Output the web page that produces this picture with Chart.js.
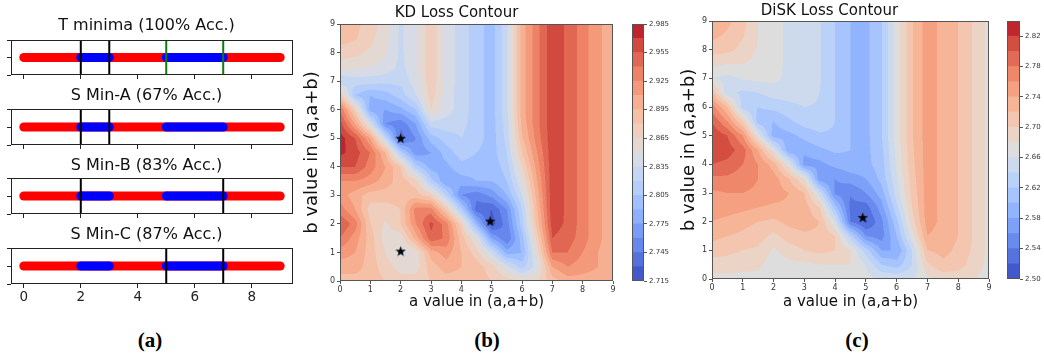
<!DOCTYPE html>
<html>
<head>
<meta charset="utf-8">
<title>Minima and loss contours</title>
<script src="https://cdn.jsdelivr.net/npm/chart.js@4.4.0/dist/chart.umd.min.js"></script>
<style>
  html, body { margin: 0; padding: 0; background: #fff; }
  #fig { position: relative; width: 1044px; height: 354px; overflow: hidden; }
  #fig canvas { position: absolute; }
  .tag { position: absolute; width: 60px; text-align: center; font: bold 21px "Liberation Serif", serif; line-height: 24px; color: #000; }
</style>
</head>
<body>
<div id="fig">
  <canvas id="strip0" width="300" height="64" style="left:0;top:16px"></canvas>
  <canvas id="strip1" width="300" height="64" style="left:0;top:86px"></canvas>
  <canvas id="strip2" width="300" height="63" style="left:0;top:156px"></canvas>
  <canvas id="strip3" width="300" height="79" style="left:0;top:225px"></canvas>
  <canvas id="kd" width="320" height="320" style="left:300px;top:0"></canvas>
  <canvas id="kdBar" width="60" height="320" style="left:620px;top:0"></canvas>
  <canvas id="disk" width="330" height="320" style="left:670px;top:0"></canvas>
  <canvas id="diskBar" width="49" height="320" style="left:995px;top:0"></canvas>
  <div class="tag" style="left:120px;top:328px">(a)</div>
  <div class="tag" style="left:457px;top:328px">(b)</div>
  <div class="tag" style="left:827px;top:328px">(c)</div>
</div>
<script>
// ---- panel (a): minima strips ----
const stripTitles = ["T minima (100% Acc.)", "S Min-A (67% Acc.)", "S Min-B (83% Acc.)", "S Min-C (87% Acc.)"];
const stripRange = [0, 9];
const blueRanges = [[2, 3], [5, 7]];
const blackLines = [[2, 3], [2, 3], [2, 7], [5, 7]];
const greenLines = [[5, 7], [], [], []];
const stripTicks = [0, 2, 4, 6, 8];
const stripYTicks = [-0.05, 0, 0.05];

// ---- panels (b), (c): loss surfaces sampled on a 0.5 grid ----
const gridA = [0, 0.5, 1, 1.5, 2, 2.5, 3, 3.5, 4, 4.5, 5, 5.5, 6, 6.5, 7, 7.5, 8, 8.5, 9];
const gridB = [9, 8.5, 8, 7.5, 7, 6.5, 6, 5.5, 5, 4.5, 4, 3.5, 3, 2.5, 2, 1.5, 1, 0.5, 0];
const axisTicks = [0, 1, 2, 3, 4, 5, 6, 7, 8, 9];

const kdLoss = [
  [2.8875, 2.8845, 2.8725, 2.8575, 2.8320, 2.8470, 2.8755, 2.8455, 2.8275, 2.8125, 2.7975, 2.8320, 2.9025, 2.9355, 2.9655, 2.9520, 2.9325, 2.9130, 2.9025],
  [2.8875, 2.8815, 2.8695, 2.8545, 2.8320, 2.8470, 2.8755, 2.8455, 2.8275, 2.8125, 2.7975, 2.8320, 2.9025, 2.9355, 2.9655, 2.9520, 2.9325, 2.9130, 2.9025],
  [2.8725, 2.8695, 2.8620, 2.8515, 2.8320, 2.8470, 2.8755, 2.8455, 2.8275, 2.8125, 2.7975, 2.8320, 2.9025, 2.9355, 2.9655, 2.9520, 2.9325, 2.9130, 2.9025],
  [2.8575, 2.8545, 2.8500, 2.8455, 2.8305, 2.8470, 2.8755, 2.8455, 2.8275, 2.8125, 2.7975, 2.8320, 2.9025, 2.9355, 2.9655, 2.9520, 2.9325, 2.9130, 2.9025],
  [2.8200, 2.8275, 2.8275, 2.8245, 2.8245, 2.8425, 2.8755, 2.8455, 2.8275, 2.8125, 2.7975, 2.8320, 2.9025, 2.9355, 2.9655, 2.9520, 2.9325, 2.9130, 2.9025],
  [2.8800, 2.8050, 2.7900, 2.7975, 2.8125, 2.8350, 2.8725, 2.8425, 2.8275, 2.8125, 2.7975, 2.8320, 2.9025, 2.9355, 2.9655, 2.9520, 2.9325, 2.9130, 2.9025],
  [2.9400, 2.8725, 2.7825, 2.7750, 2.7855, 2.8050, 2.8650, 2.8425, 2.8275, 2.8125, 2.7975, 2.8320, 2.9025, 2.9355, 2.9655, 2.9520, 2.9325, 2.9130, 2.9025],
  [2.9625, 2.9100, 2.8425, 2.7600, 2.7495, 2.7750, 2.8275, 2.8275, 2.8245, 2.8125, 2.7975, 2.8275, 2.8995, 2.9355, 2.9655, 2.9520, 2.9325, 2.9130, 2.9025],
  [2.9775, 2.9550, 2.9100, 2.8275, 2.7375, 2.7600, 2.7975, 2.8125, 2.8200, 2.8125, 2.7975, 2.8245, 2.8920, 2.9325, 2.9655, 2.9520, 2.9325, 2.9130, 2.9025],
  [2.9745, 2.9625, 2.9400, 2.8950, 2.8125, 2.7645, 2.7750, 2.7975, 2.8125, 2.8050, 2.7975, 2.8200, 2.8800, 2.9250, 2.9655, 2.9520, 2.9325, 2.9130, 2.9025],
  [2.9550, 2.9550, 2.9325, 2.9100, 2.8800, 2.8125, 2.7825, 2.7855, 2.8005, 2.7975, 2.7945, 2.8125, 2.8650, 2.9175, 2.9655, 2.9520, 2.9325, 2.9130, 2.9025],
  [2.9250, 2.9250, 2.9175, 2.9025, 2.8875, 2.8725, 2.8125, 2.7750, 2.7825, 2.7900, 2.7900, 2.8050, 2.8500, 2.9100, 2.9655, 2.9520, 2.9325, 2.9130, 2.9025],
  [2.9175, 2.9025, 2.8875, 2.8875, 2.8875, 2.8875, 2.8725, 2.8200, 2.7600, 2.7495, 2.7645, 2.7900, 2.8350, 2.9025, 2.9655, 2.9520, 2.9325, 2.9130, 2.9025],
  [2.9325, 2.9100, 2.8725, 2.8725, 2.8800, 2.9325, 2.9325, 2.8800, 2.8125, 2.7375, 2.7300, 2.7600, 2.8200, 2.8950, 2.9655, 2.9520, 2.9325, 2.9130, 2.9025],
  [2.9550, 2.9325, 2.8800, 2.8620, 2.8800, 2.9250, 2.9595, 2.9325, 2.8725, 2.7900, 2.7225, 2.7525, 2.8125, 2.8875, 2.9625, 2.9520, 2.9325, 2.9130, 2.9025],
  [2.9400, 2.9175, 2.8875, 2.8575, 2.8545, 2.9025, 2.9505, 2.9370, 2.8875, 2.8500, 2.7750, 2.7450, 2.7975, 2.8725, 2.9550, 2.9475, 2.9325, 2.9130, 2.9025],
  [2.9175, 2.9100, 2.8875, 2.8650, 2.8455, 2.8530, 2.9025, 2.9175, 2.8950, 2.8725, 2.8350, 2.7825, 2.7900, 2.8575, 2.9400, 2.9400, 2.9250, 2.9100, 2.9025],
  [2.9025, 2.9025, 2.8875, 2.8725, 2.8575, 2.8575, 2.8875, 2.9025, 2.8950, 2.8875, 2.8725, 2.8425, 2.8125, 2.8425, 2.9100, 2.9250, 2.9175, 2.9100, 2.9025],
  [2.8875, 2.8875, 2.8875, 2.8800, 2.8725, 2.8725, 2.8800, 2.8875, 2.8875, 2.8875, 2.8800, 2.8725, 2.8650, 2.8650, 2.8875, 2.9025, 2.9025, 2.9025, 2.9025]
];

const diskLoss = [
  [2.736, 2.726, 2.706, 2.680, 2.670, 2.654, 2.650, 2.642, 2.620, 2.600, 2.594, 2.618, 2.670, 2.718, 2.750, 2.734, 2.720, 2.698, 2.674],
  [2.726, 2.716, 2.702, 2.680, 2.670, 2.654, 2.650, 2.642, 2.620, 2.600, 2.594, 2.618, 2.670, 2.718, 2.750, 2.734, 2.720, 2.698, 2.674],
  [2.710, 2.706, 2.694, 2.678, 2.670, 2.654, 2.650, 2.642, 2.620, 2.600, 2.594, 2.618, 2.670, 2.718, 2.750, 2.734, 2.720, 2.698, 2.674],
  [2.684, 2.680, 2.680, 2.674, 2.670, 2.654, 2.650, 2.642, 2.620, 2.600, 2.594, 2.618, 2.670, 2.718, 2.750, 2.734, 2.720, 2.698, 2.674],
  [2.660, 2.654, 2.662, 2.666, 2.666, 2.654, 2.650, 2.642, 2.620, 2.600, 2.594, 2.618, 2.670, 2.718, 2.750, 2.734, 2.720, 2.698, 2.674],
  [2.720, 2.646, 2.636, 2.640, 2.650, 2.650, 2.650, 2.640, 2.620, 2.600, 2.594, 2.618, 2.670, 2.718, 2.750, 2.734, 2.720, 2.698, 2.674],
  [2.770, 2.720, 2.630, 2.620, 2.626, 2.634, 2.640, 2.638, 2.620, 2.600, 2.594, 2.618, 2.670, 2.718, 2.750, 2.734, 2.720, 2.698, 2.674],
  [2.800, 2.760, 2.700, 2.610, 2.600, 2.616, 2.630, 2.634, 2.620, 2.600, 2.594, 2.618, 2.670, 2.718, 2.750, 2.734, 2.720, 2.698, 2.674],
  [2.816, 2.800, 2.760, 2.670, 2.590, 2.594, 2.606, 2.616, 2.616, 2.600, 2.594, 2.618, 2.670, 2.718, 2.750, 2.734, 2.720, 2.698, 2.674],
  [2.816, 2.810, 2.790, 2.740, 2.670, 2.580, 2.586, 2.596, 2.604, 2.600, 2.594, 2.614, 2.666, 2.716, 2.750, 2.734, 2.720, 2.698, 2.674],
  [2.800, 2.794, 2.780, 2.760, 2.730, 2.670, 2.570, 2.574, 2.586, 2.594, 2.594, 2.610, 2.664, 2.714, 2.750, 2.734, 2.720, 2.698, 2.674],
  [2.776, 2.776, 2.770, 2.760, 2.750, 2.720, 2.680, 2.566, 2.560, 2.570, 2.580, 2.606, 2.656, 2.710, 2.750, 2.734, 2.720, 2.698, 2.674],
  [2.756, 2.760, 2.760, 2.756, 2.750, 2.740, 2.720, 2.650, 2.556, 2.542, 2.560, 2.590, 2.650, 2.706, 2.750, 2.734, 2.720, 2.698, 2.674],
  [2.750, 2.750, 2.746, 2.740, 2.736, 2.736, 2.730, 2.700, 2.610, 2.534, 2.530, 2.570, 2.634, 2.700, 2.750, 2.734, 2.720, 2.698, 2.674],
  [2.740, 2.734, 2.726, 2.720, 2.716, 2.726, 2.730, 2.720, 2.660, 2.540, 2.516, 2.554, 2.614, 2.690, 2.750, 2.734, 2.720, 2.698, 2.674],
  [2.726, 2.720, 2.716, 2.710, 2.694, 2.710, 2.716, 2.716, 2.700, 2.630, 2.560, 2.550, 2.600, 2.670, 2.740, 2.730, 2.720, 2.698, 2.674],
  [2.710, 2.706, 2.700, 2.696, 2.676, 2.690, 2.700, 2.706, 2.700, 2.680, 2.630, 2.580, 2.580, 2.640, 2.720, 2.726, 2.716, 2.696, 2.674],
  [2.690, 2.690, 2.686, 2.684, 2.670, 2.674, 2.676, 2.680, 2.680, 2.680, 2.660, 2.620, 2.610, 2.640, 2.696, 2.716, 2.710, 2.690, 2.674],
  [2.674, 2.674, 2.674, 2.674, 2.670, 2.670, 2.670, 2.670, 2.670, 2.670, 2.666, 2.660, 2.656, 2.658, 2.674, 2.686, 2.686, 2.680, 2.674]
];

const kdLevels = [2.715, 2.730, 2.745, 2.760, 2.775, 2.790, 2.805, 2.820, 2.835, 2.850, 2.865, 2.880, 2.895, 2.910, 2.925, 2.940, 2.955, 2.970, 2.985];
const diskLevels = [2.50, 2.52, 2.54, 2.56, 2.58, 2.60, 2.62, 2.64, 2.66, 2.68, 2.70, 2.72, 2.74, 2.76, 2.78, 2.80, 2.82, 2.84];
const kdBarTicks = [2.715, 2.745, 2.775, 2.805, 2.835, 2.865, 2.895, 2.925, 2.955, 2.985];
const diskBarTicks = [2.50, 2.54, 2.58, 2.62, 2.66, 2.70, 2.74, 2.78, 2.82];
const kdStars = [{ x: 2, y: 5 }, { x: 4.95, y: 2.1 }, { x: 2, y: 1.05 }];
const diskStars = [{ x: 4.9, y: 2.15 }];

// coolwarm colour map stops
const coolwarmStops = [
  [59, 76, 192], [68, 90, 204], [77, 104, 215], [87, 117, 225], [98, 130, 234], [108, 142, 241],
  [119, 154, 247], [130, 165, 251], [141, 176, 254], [152, 185, 255], [163, 194, 255], [174, 201, 253],
  [184, 208, 249], [194, 213, 244], [204, 217, 238], [213, 219, 230], [221, 221, 221], [229, 216, 209],
  [236, 211, 197], [241, 204, 185], [245, 196, 173], [247, 187, 160], [247, 177, 148], [247, 166, 135],
  [244, 154, 123], [241, 141, 111], [236, 127, 99], [229, 112, 88], [222, 96, 77], [213, 80, 66],
  [203, 62, 56], [192, 40, 47], [180, 4, 38]
];

function coolwarm(t) {
  const f = Math.min(Math.max(t, 0), 1) * (coolwarmStops.length - 1);
  const i = Math.min(Math.floor(f), coolwarmStops.length - 2);
  const u = f - i;
  return coolwarmStops[i].map((c, k) => Math.round(c + (coolwarmStops[i + 1][k] - c) * u));
}

function bandColors(levels) {
  const n = levels.length - 1;
  const out = [];
  for (let k = 0; k < n; k++) out.push(coolwarm((k + 0.5) / n));
  return out;
}

function locate(arr, v) {
  for (let i = 0; i < arr.length - 1; i++) {
    const lo = arr[i], hi = arr[i + 1];
    if ((v - lo) * (v - hi) <= 0) return i + (v - lo) / (hi - lo);
  }
  return Math.abs(v - arr[0]) < Math.abs(v - arr[arr.length - 1]) ? 0 : arr.length - 1;
}

function sampleGrid(grid, a, b) {
  const fx = locate(gridA, a), fy = locate(gridB, b);
  const i0 = Math.min(Math.floor(fx), gridA.length - 2), j0 = Math.min(Math.floor(fy), gridB.length - 2);
  const u = fx - i0, w = fy - j0;
  const top = grid[j0][i0] * (1 - u) + grid[j0][i0 + 1] * u;
  const bot = grid[j0 + 1][i0] * (1 - u) + grid[j0 + 1][i0 + 1] * u;
  return top * (1 - w) + bot * w;
}

// filled contour bands painted through the chart's own scales
const contourField = {
  id: 'contourField',
  beforeDatasetsDraw(chart, args, opts) {
    if (!opts.grid) return;
    const { ctx, chartArea: area, scales: { x, y } } = chart;
    const ss = 2;
    const w = Math.round(area.right - area.left), h = Math.round(area.bottom - area.top);
    const off = document.createElement('canvas');
    off.width = w * ss; off.height = h * ss;
    const octx = off.getContext('2d');
    const img = octx.createImageData(off.width, off.height);
    const nb = opts.colors.length;
    for (let j = 0; j < off.height; j++) {
      const bVal = y.getValueForPixel(area.top + (j + 0.5) / ss);
      for (let i = 0; i < off.width; i++) {
        const aVal = x.getValueForPixel(area.left + (i + 0.5) / ss);
        const v = sampleGrid(opts.grid, aVal, bVal);
        let k = 0;
        while (k < nb - 1 && v >= opts.levels[k + 1]) k++;
        const c = opts.colors[k];
        const p = (j * off.width + i) * 4;
        img.data[p] = c[0]; img.data[p + 1] = c[1]; img.data[p + 2] = c[2]; img.data[p + 3] = 255;
      }
    }
    octx.putImageData(img, 0, 0);
    ctx.save();
    ctx.imageSmoothingEnabled = true;
    ctx.drawImage(off, area.left, area.top, w, h);
    ctx.restore();
  }
};

const frame = {
  id: 'frame',
  afterDatasetsDraw(chart, args, opts) {
    const { ctx, chartArea: a } = chart;
    ctx.save();
    ctx.strokeStyle = opts.color || '#000';
    ctx.lineWidth = 1;
    const l = Math.round(a.left) + 0.5, t = Math.round(a.top) + 0.5;
    ctx.strokeRect(l, t, Math.round(a.right) - Math.round(a.left) - 1, Math.round(a.bottom) - Math.round(a.top) - 1);
    ctx.restore();
  }
};

function starImage(size) {
  const c = document.createElement('canvas');
  c.width = c.height = size;
  const g = c.getContext('2d');
  g.fillStyle = '#000';
  g.beginPath();
  for (let i = 0; i < 10; i++) {
    const r = i % 2 ? size * 0.2 : size / 2;
    const ang = -Math.PI / 2 + i * Math.PI / 5;
    g.lineTo(size / 2 + r * Math.cos(ang), size / 2 + r * Math.sin(ang) + 0.5);
  }
  g.closePath();
  g.fill();
  return c;
}

Chart.defaults.font.family = "'DejaVu Sans', sans-serif";
Chart.defaults.animation = false;
Chart.defaults.responsive = false;
Chart.defaults.events = [];
Chart.defaults.plugins.legend.display = false;
Chart.defaults.plugins.tooltip.enabled = false;

const fixedTicks = list => ax => { ax.ticks = list.map(v => ({ value: v })); };

// ---- strips ----
const stripGap = [4.4, 3.4, 2.4, 3.4];
stripTitles.forEach((title, k) => {
  const last = k === stripTitles.length - 1;
  const seg = (x0, x1, color, order) => ({
    data: [{ x: x0, y: 0 }, { x: x1, y: 0 }], borderColor: color, borderWidth: 9,
    borderCapStyle: 'round', showLine: true, pointRadius: 0, order
  });
  const vline = (xv, color) => ({
    data: [{ x: xv, y: -0.05 }, { x: xv, y: 0.05 }], borderColor: color, borderWidth: 2,
    showLine: true, pointRadius: 0, order: 0
  });
  const datasets = [
    ...blackLines[k].map(xv => vline(xv, '#000')),
    ...greenLines[k].map(xv => vline(xv, '#0a7d0a')),
    ...blueRanges.map(r => seg(r[0], r[1], '#0000ff', 1)),
    seg(stripRange[0], stripRange[1], '#ff0000', 2)
  ];
  new Chart(document.getElementById('strip' + k), {
    type: 'scatter',
    data: { datasets },
    options: {
      layout: { padding: { right: 7 } },
      plugins: {
        title: { display: true, text: title, color: '#111', font: { size: 16, weight: 'normal' }, padding: { top: 0.4, bottom: stripGap[k] } },
        frame: { color: '#222' }
      },
      scales: {
        x: {
          type: 'linear', min: -0.45, max: 9.45,
          afterBuildTicks: fixedTicks(stripTicks),
          afterFit: ax => { ax.height = last ? 20 : 5; },
          ticks: { display: last, color: '#222', font: { size: 13.5 }, padding: 1, maxRotation: 0, autoSkip: false },
          grid: { drawOnChartArea: false, tickLength: 4, color: '#222' },
          border: { display: false }
        },
        y: {
          type: 'linear', min: -0.05, max: 0.05,
          afterBuildTicks: fixedTicks(stripYTicks),
          afterFit: ax => { ax.width = 11; },
          ticks: { display: false },
          grid: { drawOnChartArea: false, tickLength: 4, color: '#222' },
          border: { display: false }
        }
      }
    },
    plugins: [frame]
  });
});

// ---- contour panels ----
const star = starImage(11);
function contourChart(id, cfg) {
  new Chart(document.getElementById(id), {
    type: 'scatter',
    data: { datasets: [{ data: cfg.stars, pointStyle: star, pointRadius: 5 }] },
    options: {
      layout: { padding: { right: cfg.padRight } },
      plugins: {
        title: { display: true, text: cfg.title, color: '#111', font: { size: 15, weight: 'normal' }, padding: cfg.titlePad },
        contourField: { grid: cfg.grid, levels: cfg.levels, colors: bandColors(cfg.levels) },
        frame: { color: '#555' }
      },
      scales: {
        x: {
          type: 'linear', min: 0, max: 9,
          afterBuildTicks: fixedTicks(axisTicks),
          afterFit: ax => { ax.height = cfg.xAxisH; },
          ticks: { color: '#333', font: { size: 8 }, padding: 1, maxRotation: 0, autoSkip: false },
          grid: { drawOnChartArea: false, tickLength: 3, color: '#555' },
          border: { display: false },
          title: { display: true, text: 'a value in (a,a+b)', color: '#111', font: { size: 15 }, padding: { top: 0, bottom: 9 } }
        },
        y: {
          type: 'linear', min: 0, max: 9,
          afterBuildTicks: fixedTicks(axisTicks),
          afterFit: ax => { ax.width = cfg.yAxisW; },
          ticks: { color: '#333', font: { size: 8 }, padding: 2, autoSkip: false },
          grid: { drawOnChartArea: false, tickLength: 3, color: '#555' },
          border: { display: false },
          title: { display: true, text: 'b value in (a,a+b)', color: '#111', font: { size: 18 }, padding: { top: cfg.yTitlePad, bottom: 0 } }
        }
      }
    },
    plugins: [contourField, frame]
  });
}

function colorbarChart(id, levels, ticks, decimals, pad, axisW) {
  const colors = bandColors(levels);
  new Chart(document.getElementById(id), {
    type: 'bar',
    data: {
      labels: [''],
      datasets: colors.map((c, k) => ({
        data: [[levels[k], levels[k + 1]]],
        backgroundColor: 'rgb(' + c.join(',') + ')',
        borderWidth: 0, grouped: false, barPercentage: 1, categoryPercentage: 1
      }))
    },
    options: {
      layout: { padding: pad },
      plugins: { frame: { color: '#555' } },
      scales: {
        x: { display: false },
        y: {
          position: 'right', min: levels[0], max: levels[levels.length - 1],
          afterBuildTicks: fixedTicks(ticks),
          afterFit: ax => { ax.width = axisW; },
          ticks: { color: '#333', font: { size: 7 }, padding: 2, autoSkip: false, callback: v => Number(v).toFixed(decimals) },
          grid: { drawOnChartArea: false, tickLength: 3, color: '#555' },
          border: { display: false }
        }
      }
    },
    plugins: [frame]
  });
}

contourChart('kd', {
  title: 'KD Loss Contour', grid: kdLoss, levels: kdLevels, stars: kdStars,
  padRight: 7, titlePad: { top: 4, bottom: 2 }, xAxisH: 39, yAxisW: 40, yTitlePad: 1.2
});
colorbarChart('kdBar', kdLevels, kdBarTicks, 3, { left: 12, top: 24, bottom: 39, right: 0 }, 36);

contourChart('disk', {
  title: 'DiSK Loss Contour', grid: diskLoss, levels: diskLevels, stars: diskStars,
  padRight: 11, titlePad: { top: 2, bottom: 1 }, xAxisH: 41, yAxisW: 42, yTitlePad: 8.2
});
colorbarChart('diskBar', diskLevels, diskBarTicks, 2, { left: 12, top: 21, bottom: 41, right: 0 }, 24);
</script>
</body>
</html>
